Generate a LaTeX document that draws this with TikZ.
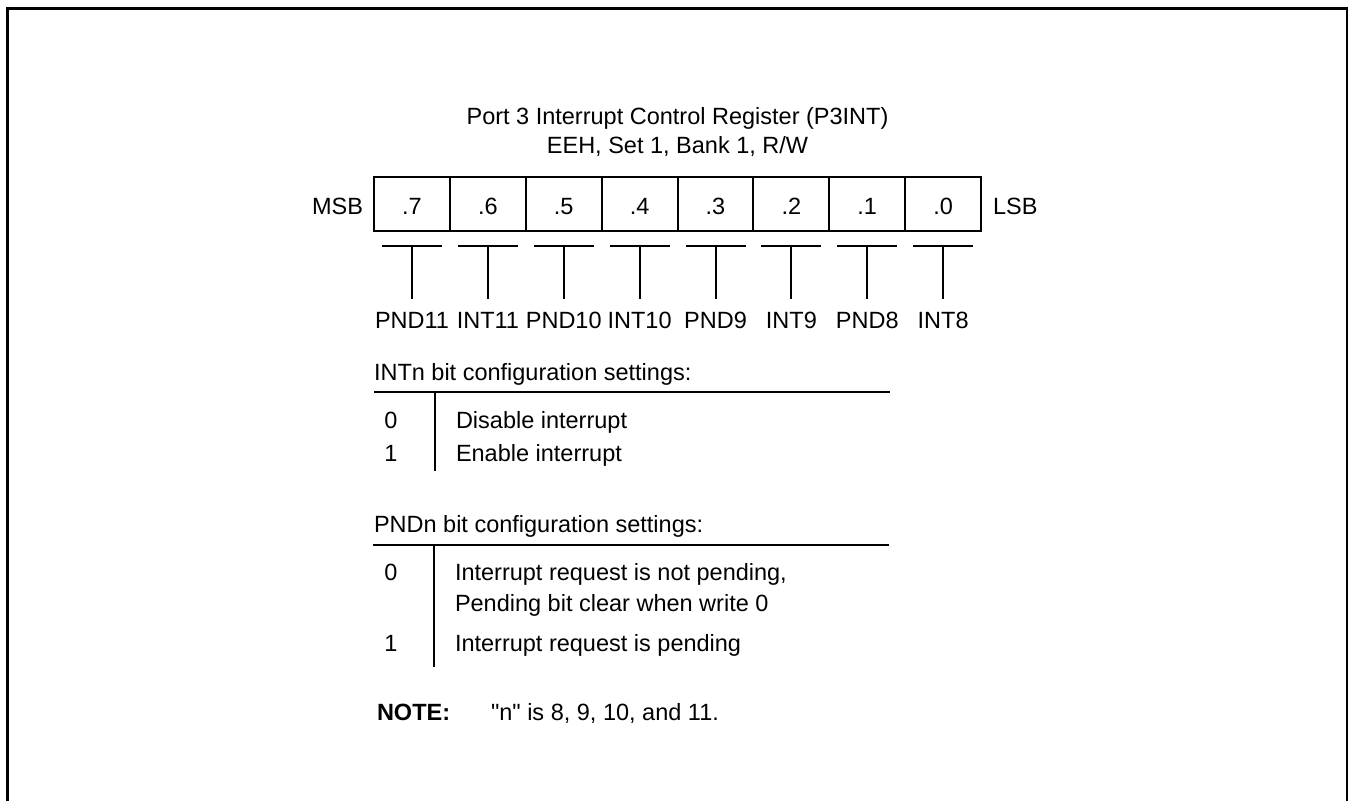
\documentclass[tikz,border=0pt]{standalone}
\usepackage{fontspec}
\setmainfont{Liberation Sans}[Ligatures=TeXOff]
\begin{document}
\begin{tikzpicture}[x=1pt,y=-1pt,
  txt/.style={inner sep=0pt, outer sep=0pt, font=\fontsize{23.5}{29}\selectfont},
  cellbox/.style={draw, line width=2pt, minimum width=75.875pt, minimum height=54pt, inner sep=0pt, outer sep=0pt, anchor=north west},
  ln/.style={line width=2pt},
  frameline/.style={line width=3pt}]
\useasboundingbox (0,0) rectangle (1348,800);
% frame (open at the bottom)
\coordinate (fbl) at (7,802);
\coordinate (ftl) at (7,9);
\coordinate (ftr) at (1347,9);
\coordinate (fbr) at (1347,802);
\draw[frameline] (fbl) -- (ftl) -- (ftr) -- (fbr);
% title
\node[txt, anchor=base] (title1) at (677.5,124.5) {Port 3 Interrupt Control Register (P3INT)};
\node[txt, anchor=base] (title2) at (677.5,153.5) {EEH, Set 1, Bank 1, R/W};
% register cells
\foreach \i/\b/\lab in {0/7/PND11,1/6/INT11,2/5/PND10,3/4/INT10,4/3/PND9,5/2/INT9,6/1/PND8,7/0/INT8}{
  \pgfmathsetmacro{\xl}{374+75.875*\i}
  \pgfmathsetmacro{\xc}{412+75.875*\i}
  \node[cellbox] (cell\i) at (\xl,177) {};
  \node[txt, anchor=base] (bit\i) at (\xc,214.5) {.\b};
  \coordinate (tl\i) at (\xc-30,246);
  \coordinate (tr\i) at (\xc+30,246);
  \coordinate (tm\i) at (\xc,246);
  \coordinate (tb\i) at (\xc,299);
  \draw[ln] (tl\i) -- (tr\i);
  \draw[ln] (tm\i) -- (tb\i);
  \node[txt, anchor=base] (lab\i) at (\xc,328.5) {\lab};
}
\node[txt, anchor=base east] (msb) at (363,214.5) {MSB};
\node[txt, anchor=base west] (lsb) at (993,214.5) {LSB};
% INTn table
\node[txt, anchor=base west] (inthead) at (374,380.5) {INTn bit configuration settings:};
\coordinate (ir1) at (374,392);
\coordinate (ir2) at (890,392);
\coordinate (iv1) at (435,392);
\coordinate (iv2) at (435,471);
\draw[ln] (ir1) -- (ir2);
\draw[ln] (iv1) -- (iv2);
\node[txt, anchor=base] (i0) at (391,428.5) {0};
\node[txt, anchor=base west] (i0t) at (456,428.5) {Disable interrupt};
\node[txt, anchor=base] (i1) at (391,461.5) {1};
\node[txt, anchor=base west] (i1t) at (456,461.5) {Enable interrupt};
% PNDn table
\node[txt, anchor=base west] (pndhead) at (374,532.5) {PNDn bit configuration settings:};
\coordinate (pr1) at (373,545);
\coordinate (pr2) at (889,545);
\coordinate (pv1) at (434,545);
\coordinate (pv2) at (434,667);
\draw[ln] (pr1) -- (pr2);
\draw[ln] (pv1) -- (pv2);
\node[txt, anchor=base] (p0) at (391,580.5) {0};
\node[txt, anchor=base west] (p0t) at (455,580.5) {Interrupt request is not pending,};
\node[txt, anchor=base west] (p0u) at (455,611.5) {Pending bit clear when write 0};
\node[txt, anchor=base] (p1) at (391,651.5) {1};
\node[txt, anchor=base west] (p1t) at (455,651.5) {Interrupt request is pending};
% note
\node[txt, anchor=base west, font=\fontsize{23.5}{29}\selectfont\bfseries] (note) at (377,720.5) {NOTE:};
\node[txt, anchor=base west] (notet) at (491,720.5) {"n" is 8, 9, 10, and 11.};
\end{tikzpicture}
\end{document}
